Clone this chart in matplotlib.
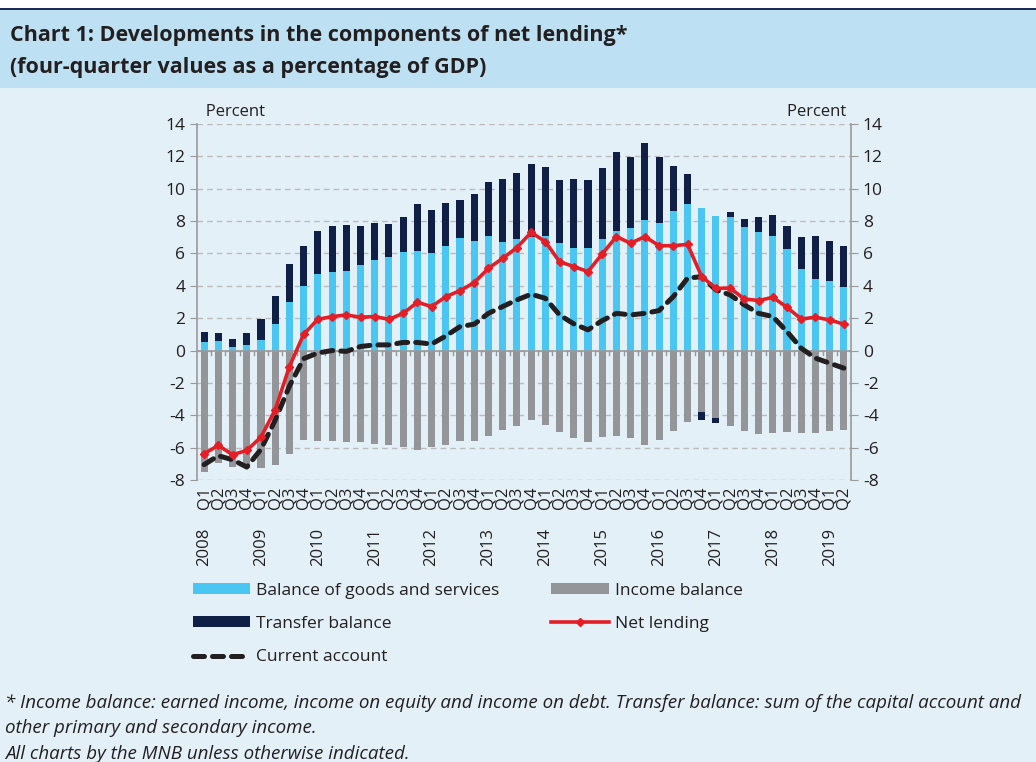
import matplotlib
matplotlib.use("Agg")
import matplotlib.pyplot as plt
from matplotlib.patches import Rectangle, Patch
from matplotlib.lines import Line2D
import matplotlib.transforms as mtransforms
import numpy as np

# quarters 2008 Q1 .. 2019 Q2
years = list(range(2008, 2020))
quarters = ["Q1", "Q2", "Q3", "Q4"] * 11 + ["Q1", "Q2"]

goods = [0.51, 0.62, 0.23, 0.33, 0.68, 1.67, 3.02, 4.01, 4.71, 4.86, 4.90, 5.31,
         5.60, 5.76, 6.07, 6.15, 6.03, 6.46, 6.98, 6.77, 7.06, 6.71, 6.89, 7.00,
         7.08, 6.63, 6.32, 6.36, 6.89, 7.39, 7.59, 8.07, 7.86, 8.62, 9.03, 8.83,
         8.33, 8.23, 7.61, 7.35, 7.08, 6.28, 5.04, 4.42, 4.32, 3.95]
transfer = [0.62, 0.45, 0.49, 0.78, 1.27, 1.68, 2.33, 2.47, 2.70, 2.84, 2.88, 2.36,
            2.26, 2.04, 2.16, 2.92, 2.65, 2.66, 2.32, 2.92, 3.37, 3.91, 4.08, 4.52,
            4.26, 3.90, 4.30, 4.15, 4.39, 4.87, 4.36, 4.73, 4.09, 2.78, 1.90, -0.55,
            -0.31, 0.31, 0.52, 0.90, 1.29, 1.44, 1.98, 2.66, 2.47, 2.53]
income = [-7.53, -6.95, -7.22, -7.26, -7.26, -7.10, -6.38, -5.51, -5.62, -5.62, -5.66, -5.66,
          -5.76, -5.86, -5.93, -6.17, -5.97, -5.86, -5.62, -5.58, -5.27, -4.92, -4.65, -4.28,
          -4.61, -5.04, -5.41, -5.66, -5.37, -5.31, -5.41, -5.82, -5.51, -5.00, -4.44, -3.77,
          -4.18, -4.69, -4.96, -5.16, -5.10, -5.06, -5.10, -5.10, -5.00, -4.94]
net_lending = [-6.38, -5.86, -6.44, -6.17, -5.35, -3.66, -0.99, 1.00, 1.93, 2.10, 2.20, 2.06,
               2.10, 1.93, 2.30, 2.98, 2.72, 3.33, 3.70, 4.20, 5.08, 5.70, 6.36, 7.30,
               6.73, 5.49, 5.19, 4.88, 5.97, 7.04, 6.63, 7.04, 6.48, 6.48, 6.56, 4.57,
               3.85, 3.85, 3.19, 3.09, 3.29, 2.67, 1.95, 2.06, 1.89, 1.63]
current_account = [-7.05, -6.50, -6.75, -7.20, -6.10, -4.30, -2.20, -0.50, -0.15, 0.00, -0.05, 0.25,
                   0.35, 0.35, 0.50, 0.50, 0.40, 0.90, 1.48, 1.63, 2.30, 2.72, 3.13, 3.48,
                   3.23, 2.20, 1.65, 1.28, 1.85, 2.30, 2.20, 2.30, 2.47, 3.33, 4.47, 4.57,
                   3.74, 3.44, 2.82, 2.30, 2.10, 1.17, 0.14, -0.47, -0.78, -1.09]

c_goods = "#49C7F2"
c_transfer = "#0F1F45"
c_income = "#939598"
c_red = "#E31E26"
c_black = "#231F20"
bg = "#E3F0F7"
band = "#BDE0F2"

plt.rcParams["font.family"] = "Open Sans"

fig = plt.figure(figsize=(10.36, 7.62), dpi=100, facecolor=bg)

# header band
fig.patches.append(Rectangle((0, 1 - 8 / 762), 1, 8 / 762, transform=fig.transFigure,
                             facecolor="white", edgecolor="none"))
fig.patches.append(Rectangle((0, 1 - 10 / 762), 1, 2 / 762, transform=fig.transFigure,
                             facecolor="#1B2A5A", edgecolor="none"))
fig.patches.append(Rectangle((0, 1 - 88 / 762), 1, 78 / 762, transform=fig.transFigure,
                             facecolor=band, edgecolor="none"))
fig.text(10 / 1036, 1 - 35 / 762, "Chart 1: Developments in the components of net lending*",
         fontsize=15.5, fontweight="bold", color="#231F20", va="center")
fig.text(10 / 1036, 1 - 68 / 762, "(four-quarter values as a percentage of GDP)",
         fontsize=15.5, fontweight="bold", color="#231F20", va="center")

ax = fig.add_axes([197 / 1036, 1 - 480 / 762, 654 / 1036, 356 / 762])
ax.set_facecolor(bg)

x = np.arange(len(goods))
goods = np.array(goods)
transfer = np.array(transfer)
income = np.array(income)
tr_pos = np.where(transfer > 0, transfer, 0)
tr_neg = np.where(transfer < 0, transfer, 0)

w = 0.5
ax.bar(x, goods, w, color=c_goods, zorder=2)
ax.bar(x, tr_pos, w, bottom=goods, color=c_transfer, zorder=2)
ax.bar(x, income, w, color=c_income, zorder=2)
ax.bar(x, tr_neg, w, bottom=income, color=c_transfer, zorder=2)
ax.plot(x, net_lending, color=c_red, lw=2.6, marker="D", ms=4, zorder=4)
ax.plot(x, current_account, color=c_black, lw=3.6, dashes=(2.2, 1.6),
        dash_capstyle="round", zorder=3)

ax.set_xlim(-0.5, len(goods) - 0.5)
ax.set_ylim(-8, 14)
yt = np.arange(-8, 15, 2)
ax.set_yticks(yt)
ax.set_yticklabels([str(v) for v in yt])
ax.tick_params(axis="y", labelsize=12.5, colors="#231F20", length=5, color="#999999",
               left=True, right=True, labelleft=True, labelright=True)
for v in yt:
    ax.axhline(v, color="#BBBBBB", lw=1, ls=(0, (4, 3)), zorder=1)
ax.axhline(0, color="#999999", lw=1.2, zorder=2.5)
for s in ["top", "bottom"]:
    ax.spines[s].set_visible(False)
for s in ["left", "right"]:
    ax.spines[s].set_color("#999999")
    ax.spines[s].set_linewidth(1.2)

# x axis: small ticks on zero line, two-level labels
ax.set_xticks([])
for b in np.arange(0.5, len(goods) - 1, 1):
    ax.plot([b, b], [0, -0.25], color="#999999", lw=1, zorder=2.6)
transl = mtransforms.blended_transform_factory(ax.transData, ax.transAxes)
for i, q in enumerate(quarters):
    ax.text(i, -0.018, q, rotation=90, ha="center", va="top", fontsize=12,
            color="#231F20", transform=transl)
for k, yr in enumerate(years):
    ax.text(k * 4, -0.135, str(yr), rotation=90, ha="center", va="top", fontsize=12,
            color="#231F20", transform=transl)

ax.text(0.0, 1.01, "  Percent", transform=ax.transAxes, ha="left", va="bottom",
        fontsize=12, color="#231F20")
ax.text(1.0, 1.01, "Percent ", transform=ax.transAxes, ha="right", va="bottom",
        fontsize=12, color="#231F20")

handles = [
    Patch(facecolor=c_goods, label="Balance of goods and services"),
    Patch(facecolor=c_transfer, label="Transfer balance"),
    Line2D([], [], color=c_black, lw=3.6, dashes=(2.2, 1.6), dash_capstyle="round",
           label="Current account"),
    Patch(facecolor=c_income, label="Income balance"),
    Line2D([], [], color=c_red, lw=2.6, marker="D", ms=4, markevery=[1],
           label="Net lending"),
]
leg = fig.legend(handles=handles, ncol=2, loc="upper left",
                 bbox_to_anchor=(177 / 1036, 1 - 567 / 762), frameon=False,
                 fontsize=12.5, handlelength=3.3, handleheight=0.6, handletextpad=0.35,
                 columnspacing=3.0, labelspacing=1.0)
for t in leg.get_texts():
    t.set_color("#231F20")

foot = ("* Income balance: earned income, income on equity and income on debt. "
        "Transfer balance: sum of the capital account and\nother primary and secondary income.\n"
        "All charts by the MNB unless otherwise indicated.")
fig.text(5 / 1036, 1 - 694 / 762, foot, fontsize=13.5, style="italic", color="#231F20",
         va="top", linespacing=1.52)

fig.savefig("out.png", dpi=100, facecolor=bg)
